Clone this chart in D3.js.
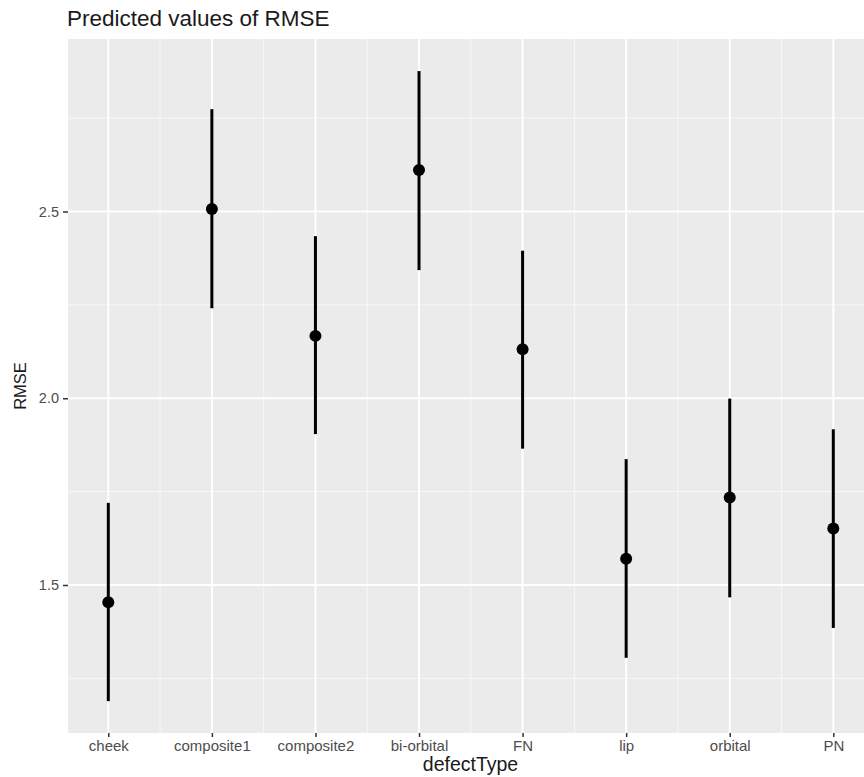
<!DOCTYPE html>
<html>
<head>
<meta charset="utf-8">
<script src="https://cdn.jsdelivr.net/npm/d3@7"></script>
<style>
  body { margin: 0; background: #fff; }
  svg { display: block; font-family: "Liberation Sans", Arial, sans-serif; }
</style>
</head>
<body>
<svg id="chart" width="864" height="777"></svg>
<script>
// data
const categories = ["cheek", "composite1", "composite2", "bi-orbital", "FN", "lip", "orbital", "PN"];
const predicted = [1.454, 2.507, 2.167, 2.611, 2.131, 1.570, 1.734, 1.651];
const lower = [1.189, 2.241, 1.904, 2.343, 1.865, 1.305, 1.467, 1.385];
const upper = [1.720, 2.774, 2.434, 2.876, 2.395, 1.837, 1.999, 1.917];
const yTicks = [1.5, 2.0, 2.5];
const yMinor = [1.25, 1.75, 2.25, 2.75];

const data = categories.map((c, i) => ({ cat: c, y: predicted[i], lo: lower[i], hi: upper[i] }));

// panel bounds (right edge runs past the image, like the original crop)
const panel = { left: 68, top: 39, right: 873, bottom: 733 };

const svg = d3.select("#chart");

const x = d3.scalePoint().domain(categories).range([108.3, 833.3]);
const y = d3.scaleLinear().domain([1.5, 2.5]).range([585, 211.5]);

// background panel
svg.append("rect")
  .attr("x", panel.left)
  .attr("y", panel.top)
  .attr("width", panel.right - panel.left)
  .attr("height", panel.bottom - panel.top)
  .attr("fill", "#ebebeb");

const grid = svg.append("g");

// minor grid
grid.selectAll(".ymin")
  .data(yMinor)
  .join("line")
  .attr("x1", panel.left).attr("x2", panel.right)
  .attr("y1", (d) => y(d)).attr("y2", (d) => y(d))
  .attr("stroke", "#f7f7f7").attr("stroke-width", 1);

const step = x.step();
grid.selectAll(".xmin")
  .data(categories.slice(1))
  .join("line")
  .attr("x1", (d) => x(d) - step / 2).attr("x2", (d) => x(d) - step / 2)
  .attr("y1", panel.top).attr("y2", panel.bottom)
  .attr("stroke", "#f7f7f7").attr("stroke-width", 1);

// major grid
grid.selectAll(".ymaj")
  .data(yTicks)
  .join("line")
  .attr("x1", panel.left).attr("x2", panel.right)
  .attr("y1", (d) => y(d)).attr("y2", (d) => y(d))
  .attr("stroke", "#ffffff").attr("stroke-width", 2);

grid.selectAll(".xmaj")
  .data(categories)
  .join("line")
  .attr("x1", (d) => x(d)).attr("x2", (d) => x(d))
  .attr("y1", panel.top).attr("y2", panel.bottom)
  .attr("stroke", "#ffffff").attr("stroke-width", 2);

// axes
const yAxis = svg.append("g")
  .attr("transform", `translate(${panel.left},0)`)
  .call(d3.axisLeft(y).tickValues(yTicks).tickFormat(d3.format(".1f")).tickSize(5).tickPadding(4));
yAxis.select(".domain").remove();
yAxis.selectAll("line").attr("stroke", "#333").attr("stroke-width", 1.5);
yAxis.selectAll("text").attr("fill", "#4d4d4d").style("font-size", "14.5px").style("font-family", "Liberation Sans, Arial, sans-serif");

const xAxis = svg.append("g")
  .attr("transform", `translate(0,${panel.bottom})`)
  .call(d3.axisBottom(x).tickSize(4).tickPadding(3));
xAxis.select(".domain").remove();
xAxis.selectAll("line").attr("stroke", "#333").attr("stroke-width", 1.5);
xAxis.selectAll("text").attr("fill", "#4d4d4d").style("font-size", "15px").style("font-family", "Liberation Sans, Arial, sans-serif");

// error bars and points
svg.append("g")
  .selectAll("line")
  .data(data)
  .join("line")
  .attr("x1", (d) => x(d.cat)).attr("x2", (d) => x(d.cat))
  .attr("y1", (d) => y(d.lo)).attr("y2", (d) => y(d.hi))
  .attr("stroke", "#000").attr("stroke-width", 3);

svg.append("g")
  .selectAll("circle")
  .data(data)
  .join("circle")
  .attr("cx", (d) => x(d.cat))
  .attr("cy", (d) => y(d.y))
  .attr("r", 6)
  .attr("fill", "#000");

// titles
svg.append("text")
  .attr("x", 67).attr("y", 26)
  .attr("fill", "#1a1a1a")
  .style("font-size", "22.5px")
  .text("Predicted values of RMSE");

svg.append("text")
  .attr("x", (panel.left + panel.right) / 2).attr("y", 771)
  .attr("text-anchor", "middle")
  .attr("fill", "#1a1a1a")
  .style("font-size", "19.5px")
  .text("defectType");

svg.append("text")
  .attr("transform", `translate(26,${(panel.top + panel.bottom) / 2}) rotate(-90)`)
  .attr("text-anchor", "middle")
  .attr("fill", "#1a1a1a")
  .style("font-size", "16.5px")
  .text("RMSE");
</script>
</body>
</html>
